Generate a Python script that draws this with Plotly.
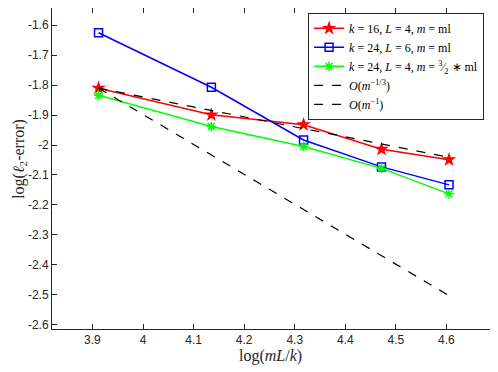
import numpy as np
import plotly.graph_objects as go

# x positions: log(mL/k)
x_vals = np.log([50, 62.5, 75, 87.5, 100])

# log(l2-error) series
red_vals = [-1.810, -1.899, -1.932, -2.014, -2.049]
blue_vals = [-1.625, -1.807, -1.983, -2.073, -2.133]
green_vals = [-1.834, -1.938, -2.005, -2.078, -2.163]

# reference slopes, anchored at the first red point
ref_x = [x_vals[0], x_vals[-1]]
ref_third = [-1.810, -1.810 - (x_vals[-1] - x_vals[0]) / 3]
ref_one = [-1.810, -1.810 - (x_vals[-1] - x_vals[0])]

x_ticks = [3.9, 4.0, 4.1, 4.2, 4.3, 4.4, 4.5, 4.6]
x_ticktext = ["3.9", "4", "4.1", "4.2", "4.3", "4.4", "4.5", "4.6"]
y_ticks = [-1.6, -1.7, -1.8, -1.9, -2.0, -2.1, -2.2, -2.3, -2.4, -2.5, -2.6]
y_ticktext = ["-1.6", "-1.7", "-1.8", "-1.9", "-2", "-2.1", "-2.2", "-2.3", "-2.4", "-2.5", "-2.6"]

fig = go.Figure()

fig.add_trace(go.Scatter(
	x=x_vals, y=red_vals, mode="lines+markers",
	name="<i>k</i> = 16, <i>L</i> = 4, <i>m</i> = ml",
	line=dict(color="#ff0000", width=1.5),
	marker=dict(symbol="star", size=11, color="#ff0000"),
))
fig.add_trace(go.Scatter(
	x=x_vals, y=blue_vals, mode="lines+markers",
	name="<i>k</i> = 24, <i>L</i> = 6, <i>m</i> = ml",
	line=dict(color="#0000ff", width=1.5),
	marker=dict(symbol="square-open", size=8, color="#0000ff", line=dict(width=1.5)),
))
fig.add_trace(go.Scatter(
	x=x_vals, y=green_vals, mode="lines+markers",
	name="<i>k</i> = 24, <i>L</i> = 4, <i>m</i> = <sup>3</sup>&#8260;<sub>2</sub> ∗ ml",
	line=dict(color="#00ff00", width=1.5),
	marker=dict(symbol="asterisk-open", size=8, color="#00ff00", line=dict(width=1.5, color="#00ff00")),
))
fig.add_trace(go.Scatter(
	x=ref_x, y=ref_third, mode="lines",
	name="<i>O</i>(<i>m</i><sup>−1/3</sup>)",
	line=dict(color="black", width=1.2, dash="dash"),
))
fig.add_trace(go.Scatter(
	x=ref_x, y=ref_one, mode="lines",
	name="<i>O</i>(<i>m</i><sup>−1</sup>)",
	line=dict(color="black", width=1.2, dash="dash"),
))

axis_style = dict(
	showline=True, linecolor="#262626", linewidth=1, mirror="ticks",
	ticks="inside", ticklen=5, tickcolor="#262626",
	showgrid=False, zeroline=False, automargin=False,
	tickfont=dict(family="Liberation Sans, Arial", size=12, color="#262626"),
)

title_font = dict(family="Liberation Serif, Times New Roman", size=16, color="#262626")

fig.update_xaxes(range=[3.82, 4.70], tickvals=x_ticks, ticktext=x_ticktext, **axis_style)
fig.update_yaxes(range=[-2.6145, -1.5423], tickvals=y_ticks, ticktext=y_ticktext, **axis_style)

# Axis titles as annotations so they sit where the reference has them
fig.add_annotation(text="log(<i>mL</i>/<i>k</i>)", xref="paper", yref="paper",
	x=0.49, y=0, yshift=-27, xanchor="center", yanchor="middle",
	showarrow=False, font=title_font)
fig.add_annotation(text="log(<i>ℓ</i><sub>2</sub>-error)", xref="paper", yref="paper",
	x=0, y=0.53, xshift=-32, xanchor="center", yanchor="middle", textangle=-90,
	showarrow=False, font=title_font)

# page has an 8px body margin, so the figure is 8px smaller each way
fig.update_layout(
	width=490, height=364,
	margin=dict(l=44, r=1, t=0, b=43, autoexpand=False),
	plot_bgcolor="white", paper_bgcolor="white",
	legend=dict(
		x=0.971, y=0.985, xanchor="right", yanchor="top",
		bgcolor="white", bordercolor="#262626", borderwidth=1,
		font=dict(family="Liberation Serif, Times New Roman", size=12, color="black"),
		tracegroupgap=0, itemwidth=30,
	),
	showlegend=True,
)

fig.write_html("out.html")
